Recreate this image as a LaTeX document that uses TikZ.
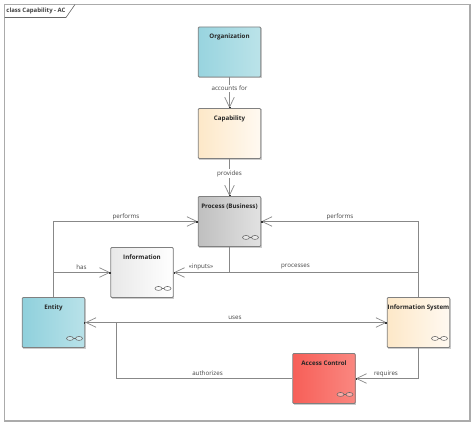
\documentclass[tikz,border=0pt]{standalone}
\usepackage{fontspec}
\setmainfont{Open Sans}
\usetikzlibrary{arrows.meta,calc}
\definecolor{linegrey}{HTML}{888888}
\definecolor{framegrey}{HTML}{ABABAB}
\definecolor{boxedge}{HTML}{808080}
\definecolor{txt}{HTML}{444444}
\tikzset{
  blockbox/.style={rectangle,draw=boxedge,line width=0.9pt,rounded corners=1pt,minimum width=62.5pt,minimum height=50pt,inner sep=0pt,shade,shading angle=90},
  title/.style={font=\fontsize{6.2}{8}\selectfont\bfseries,text=black!85,inner sep=0pt,anchor=center},
  conn/.style={draw=linegrey,line width=1.05pt},
  tip/.style={-{Straight Barb[length=10pt,width=9.5pt,line width=0.7pt,sep=-1.5pt]Square[length=1.5pt,width=2pt,black!80]}},
  bothtips/.style={{Square[length=1.5pt,width=2pt,black!80,sep=-1.5pt]Straight Barb[length=10pt,width=9.5pt,line width=0.7pt]}-{Straight Barb[length=10pt,width=9.5pt,line width=0.7pt,sep=-1.5pt]Square[length=1.5pt,width=2pt,black!80]}},
  lbl/.style={font=\fontsize{6.2}{8}\selectfont,text=txt,inner sep=0pt,anchor=center},
  ico/.style={draw=black!60,line width=0.55pt,fill=white,fill opacity=0.35}
}
\definecolor{orgA}{HTML}{98D4DF}\definecolor{orgB}{HTML}{BBE3E9}
\definecolor{capA}{HTML}{FDE8C8}\definecolor{capB}{HTML}{FFF9F1}
\definecolor{proA}{HTML}{BFBFBF}\definecolor{proB}{HTML}{E2E2E2}
\definecolor{infA}{HTML}{E8E8E8}\definecolor{infB}{HTML}{FFFFFF}
\definecolor{entA}{HTML}{8FD0DC}\definecolor{entB}{HTML}{B9E2E9}
\definecolor{acA}{HTML}{F75F58}\definecolor{acB}{HTML}{FA8780}
\newcommand{\myblock}[6]{%
  \fill[black!20] (#2-31.25+1,#3-25+1) rectangle (#2+31.25+1.2,#3+25+1.2);
  \node[blockbox,left color=#5,right color=#6] (#1) at (#2,#3) {};
  \node[title] (#1-t) at (#2,#3-15) {#4};
}
\newcommand{\myicon}[1]{%
  \draw[ico] ($(#1.south east)+(-15.2,-9.5)$) ellipse (3.5 and 2);
  \draw[ico] ($(#1.south east)+(-6.2,-9.5)$) ellipse (3.5 and 2);
  \draw[draw=black!60,line width=0.55pt] ($(#1.south east)+(-11.7,-9.5)$) -- ($(#1.south east)+(-9.7,-9.5)$);
}
\begin{document}
\begin{tikzpicture}[x=1pt,y=-1pt]
\useasboundingbox (0,0) rectangle (474,425);
\fill[white] (0,0) rectangle (474,425);
\coordinate (f1) at (4.5,4.5);
\coordinate (f2) at (470,421);
\draw[framegrey,line width=1.3pt] (f1) rectangle (f2);
\coordinate (t1) at (75,4.5);
\coordinate (t2) at (66,17.5);
\coordinate (t3) at (4.5,17.5);
\draw[black!60,line width=0.6pt] (t1) -- (t2) -- (t3);
\node[lbl,font=\fontsize{6}{8}\selectfont\bfseries,text=black!75] (frametitle) at (36,10.5) {class Capability - AC};

\myblock{org}{229.5}{52}{Organization}{orgA}{orgB}
\myblock{cap}{229.5}{133.5}{Capability}{capA}{capB}
\myblock{pro}{229.5}{221.5}{Process (Business)}{proA}{proB}
\myblock{inf}{142}{272.5}{Information}{infA}{infB}
\myblock{ent}{53.5}{322.5}{Entity}{entA}{entB}
\myblock{sys}{418.5}{322.5}{Information System}{capA}{capB}
\myblock{acc}{324}{378.5}{Access Control}{acA}{acB}
\myicon{pro}\myicon{inf}\myicon{ent}\myicon{sys}\myicon{acc}

\coordinate (j1) at (pro.south |- inf.east);
\coordinate (j2) at (sys.north |- inf.east);
\coordinate (j3) at (116.5,322.5);
\coordinate (j4) at (ent.north |- inf.west);

\draw[conn,tip] (org) -- (cap);
\draw[conn,tip] (cap) -- (pro);
\draw[conn,tip] (ent.north) |- (pro.west);
\draw[conn,tip] (j4) -- (inf.west);
\draw[conn,tip] (j1) -- (inf.east);
\draw[conn] (pro.south) -- (j1);
\draw[conn] (j1) -- (j2);
\draw[conn,tip] (sys.north) |- (pro.east);
\draw[conn,bothtips] (ent.east) -- (sys.west);
\draw[conn] (j3) |- (acc.west);
\draw[conn,tip] (sys.south) |- (acc.east);

\node[lbl,fill=white,inner xsep=1pt,inner ysep=1.5pt] (l1) at (229.5,88.5) {accounts for};
\node[lbl,fill=white,inner xsep=1pt,inner ysep=1.5pt] (l2) at (229.5,173.5) {provides};
\node[lbl] (l3) at (126,217) {performs};
\node[lbl] (l4) at (81.5,267) {has};
\node[lbl] (l5) at (201,267) {«inputs»};
\node[lbl] (l6) at (295.5,267) {processes};
\node[lbl] (l7) at (340,217) {performs};
\node[lbl] (l8) at (235,317.5) {uses};
\node[lbl] (l9) at (207.5,373.5) {authorizes};
\node[lbl] (l10) at (386,374) {requires};
\end{tikzpicture}
\end{document}
